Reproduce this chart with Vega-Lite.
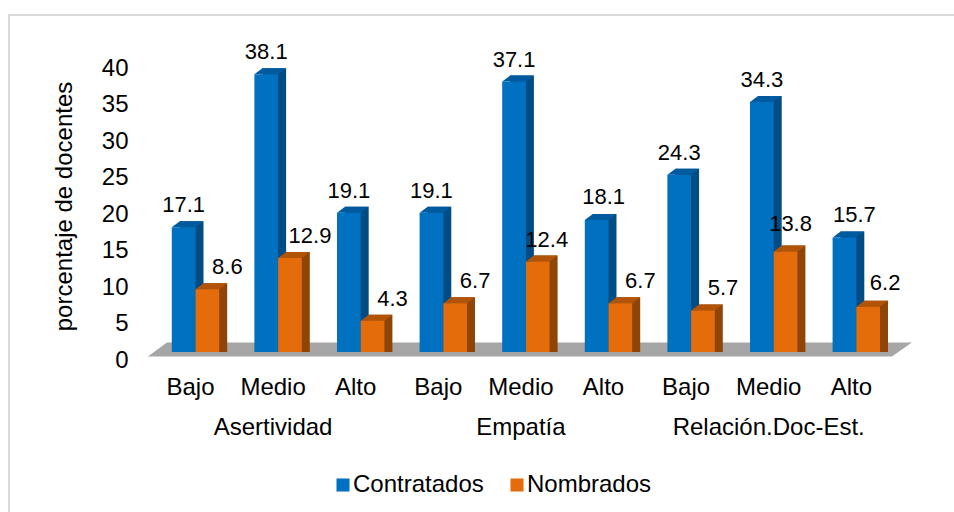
{
"$schema":"https://vega.github.io/schema/vega-lite/v6.json",
"width":960,"height":520,
"padding":{"left":9,"top":15,"right":0,"bottom":0},
"autosize":{"type":"none"},
"background":"white",
"config":{"view":{"stroke":"#D9D9D9","strokeWidth":2},"font":"Liberation Sans"},
"resolve":{"scale":{"xOffset":"independent"}},
"datasets":{
"bars":[
{"cat":"Asertividad Bajo","series":"Contratados","value":17.1},
{"cat":"Asertividad Bajo","series":"Nombrados","value":8.6},
{"cat":"Asertividad Medio","series":"Contratados","value":38.1},
{"cat":"Asertividad Medio","series":"Nombrados","value":12.9},
{"cat":"Asertividad Alto","series":"Contratados","value":19.1},
{"cat":"Asertividad Alto","series":"Nombrados","value":4.3},
{"cat":"Empatía Bajo","series":"Contratados","value":19.1},
{"cat":"Empatía Bajo","series":"Nombrados","value":6.7},
{"cat":"Empatía Medio","series":"Contratados","value":37.1},
{"cat":"Empatía Medio","series":"Nombrados","value":12.4},
{"cat":"Empatía Alto","series":"Contratados","value":18.1},
{"cat":"Empatía Alto","series":"Nombrados","value":6.7},
{"cat":"Relación.Doc-Est. Bajo","series":"Contratados","value":24.3},
{"cat":"Relación.Doc-Est. Bajo","series":"Nombrados","value":5.7},
{"cat":"Relación.Doc-Est. Medio","series":"Contratados","value":34.3},
{"cat":"Relación.Doc-Est. Medio","series":"Nombrados","value":13.8},
{"cat":"Relación.Doc-Est. Alto","series":"Contratados","value":15.7},
{"cat":"Relación.Doc-Est. Alto","series":"Nombrados","value":6.2}
],
"groups":[
{"cat":"Asertividad Medio","group":"Asertividad","value":0},
{"cat":"Empatía Medio","group":"Empatía","value":0},
{"cat":"Relación.Doc-Est. Medio","group":"Relación.Doc-Est.","value":0}
],
"floor":[{"cat":"Empatía Medio","value":0}]
},
"data":{"name":"bars"},
"encoding":{
"x":{"field":"cat","type":"nominal",
"scale":{"domain":["Asertividad Bajo","Asertividad Medio","Asertividad Alto","Empatía Bajo","Empatía Medio","Empatía Alto","Relación.Doc-Est. Bajo","Relación.Doc-Est. Medio","Relación.Doc-Est. Alto"],"range":[145.2,888.6],"paddingInner":0.426,"paddingOuter":0.213},
"axis":{"title":null,"domain":false,"ticks":false,"labelAngle":0,"labelFontSize":24,"labelColor":"#000","offset":-168,"labelPadding":8,"labelOffset":-5,"labelExpr":"split(datum.label,' ')[1]"}},
"y":{"field":"value","type":"quantitative",
"scale":{"domain":[0,40],"range":[337,45.4],"nice":false,"zero":false},
"axis":{"title":"porcentaje de docentes","titleFontSize":24,"titleFontWeight":"normal","titleColor":"#000","titleX":-52,"titleY":191,"values":[0,5,10,15,20,25,30,35,40],"format":"d","domain":false,"ticks":false,"grid":false,"labelFontSize":24,"labelColor":"#000","labelOffset":8,"offset":-119,"labelPadding":0}},
"xOffset":{"field":"series","type":"nominal","scale":{"type":"band","domain":["Contratados","Nombrados"],"paddingInner":0,"paddingOuter":0}}
},
"layer":[
{"data":{"name":"floor"},"mark":{"type":"point","filled":true,"opacity":1,"size":4,"color":"#A6A6A6","strokeWidth":0,"shape":"M-378,4.5 L366,4.5 L386,-9.5 L-359,-9.5 Z"},"encoding":{"xOffset":{"value":23.7}}},
{"transform":[{"filter":"datum.series=='Contratados'"}],"layer":[
{"mark":{"type":"bar","color":"#004C85","yOffset":-6},"encoding":{"y2":{"datum":0},"xOffset":{"field":"series","type":"nominal","scale":{"type":"band","domain":["Contratados","Nombrados"],"range":[8,55.41],"paddingInner":0,"paddingOuter":0}}}},
{"transform":[{"calculate":"0","as":"base"}],"mark":{"type":"point","filled":true,"opacity":1,"size":4,"strokeWidth":0,"color":"#004C85","shape":"M3.85,0 L3.85,-6 L11.85,-6 Z"},"encoding":{"y":{"field":"base","type":"quantitative"}}},
{"mark":{"type":"point","filled":true,"opacity":1,"size":4,"strokeWidth":0,"color":"#005A9E","shape":"M-19.85,0 L3.85,0 L11.85,-6 L-11.85,-6 Z"}}
]},
{"transform":[{"filter":"datum.series=='Nombrados'"}],"layer":[
{"mark":{"type":"bar","color":"#8F4507","yOffset":-6},"encoding":{"y2":{"datum":0},"xOffset":{"field":"series","type":"nominal","scale":{"type":"band","domain":["Contratados","Nombrados"],"range":[8,55.41],"paddingInner":0,"paddingOuter":0}}}},
{"transform":[{"calculate":"0","as":"base"}],"mark":{"type":"point","filled":true,"opacity":1,"size":4,"strokeWidth":0,"color":"#8F4507","shape":"M3.85,0 L3.85,-6 L11.85,-6 Z"},"encoding":{"y":{"field":"base","type":"quantitative"}}},
{"mark":{"type":"point","filled":true,"opacity":1,"size":4,"strokeWidth":0,"color":"#B25408","shape":"M-19.85,0 L3.85,0 L11.85,-6 L-11.85,-6 Z"}}
]},
{"mark":{"type":"bar"},"encoding":{"y2":{"datum":0},"color":{"field":"series","type":"nominal","scale":{"domain":["Contratados","Nombrados"],"range":["#0070C0","#E46C0A"]},"legend":{"title":null,"orient":"none","legendX":322,"legendY":458,"direction":"horizontal","symbolType":"square","symbolSize":170,"symbolStrokeWidth":0,"labelFontSize":24,"labelColor":"#000","labelOffset":-2,"columnPadding":21}}}},
{"transform":[{"filter":"datum.series=='Contratados' && datum.cat!='Empatía Alto' && datum.cat!='Relación.Doc-Est. Alto'"}],"mark":{"type":"text","fontSize":22,"color":"#000","dy":-22,"baseline":"middle"},"encoding":{"text":{"field":"value","type":"quantitative","format":".1f"}}},
{"transform":[{"filter":"datum.series=='Contratados' && datum.cat=='Empatía Alto'"}],"mark":{"type":"text","fontSize":22,"color":"#000","dx":7,"dy":-23,"baseline":"middle"},"encoding":{"text":{"field":"value","type":"quantitative","format":".1f"}}},
{"transform":[{"filter":"datum.series=='Contratados' && datum.cat=='Relación.Doc-Est. Alto'"}],"mark":{"type":"text","fontSize":22,"color":"#000","dx":10,"dy":-23,"baseline":"middle"},"encoding":{"text":{"field":"value","type":"quantitative","format":".1f"}}},
{"transform":[{"filter":"datum.series=='Nombrados' && datum.cat!='Empatía Medio' && datum.cat!='Relación.Doc-Est. Medio' && datum.cat!='Relación.Doc-Est. Alto'"}],"mark":{"type":"text","fontSize":22,"color":"#000","dx":20,"dy":-22,"baseline":"middle"},"encoding":{"text":{"field":"value","type":"quantitative","format":".1f"}}},
{"transform":[{"filter":"datum.series=='Nombrados' && datum.cat=='Empatía Medio'"}],"mark":{"type":"text","fontSize":22,"color":"#000","dx":9,"dy":-22,"baseline":"middle"},"encoding":{"text":{"field":"value","type":"quantitative","format":".1f"}}},
{"transform":[{"filter":"datum.series=='Nombrados' && datum.cat=='Relación.Doc-Est. Medio'"}],"mark":{"type":"text","fontSize":22,"color":"#000","dx":5,"dy":-27,"baseline":"middle"},"encoding":{"text":{"field":"value","type":"quantitative","format":".1f"}}},
{"transform":[{"filter":"datum.series=='Nombrados' && datum.cat=='Relación.Doc-Est. Alto'"}],"mark":{"type":"text","fontSize":22,"color":"#000","dx":17,"dy":-24,"baseline":"middle"},"encoding":{"text":{"field":"value","type":"quantitative","format":".1f"}}},
{"data":{"name":"groups"},"mark":{"type":"text","fontSize":24,"color":"#000","dy":76,"dx":-5,"baseline":"middle"},"encoding":{"xOffset":{"value":23.7},"text":{"field":"group","type":"nominal"}}}
]
}
